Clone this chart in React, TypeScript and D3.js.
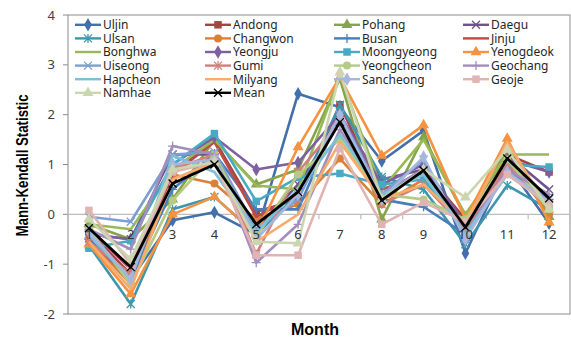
import React from "react";
import * as d3 from "d3";

const months = [1, 2, 3, 4, 5, 6, 7, 8, 9, 10, 11, 12];
const yTicks = [-2, -1, 0, 1, 2, 3, 4];

const uljin = [-0.4, -1.3, -0.12, 0.04, -0.4, 2.42, 2.15, 1.07, 1.68, -0.78, 1.0, -0.18];
const andong = [-0.35, -1.2, 0.8, 1.5, 0.05, 0.3, 2.2, 0.4, 0.9, -0.1, 1.2, 0.85];
const pohang = [-0.2, -0.5, 0.3, 1.5, 0.6, 0.9, 2.72, -0.1, 1.55, -0.05, 1.3, -0.05];
const daegu = [-0.4, -0.5, 1.2, 1.2, -0.3, 0.6, 1.9, 0.7, 0.9, -0.3, 1.2, 0.5];
const ulsan = [-0.62, -1.8, 0.1, 0.35, -0.4, 0.4, 2.2, 0.75, 0.5, -0.6, 0.58, 0.1];
const changwon = [-0.5, -1.4, 0.8, 0.62, -0.1, 0.2, 1.12, 0.2, 0.7, -0.3, 1.1, 0.0];
const busan = [-0.5, -1.3, 0.5, 1.22, 0.1, 0.1, 2.0, 0.3, 0.15, -0.4, 0.9, 0.3];
const jinju = [-0.3, -1.1, 0.8, 1.45, -0.05, 0.4, 2.0, 0.5, 0.8, -0.2, 1.2, 0.2];
const bonghwa = [-0.2, -0.3, 0.9, 1.5, 0.58, 0.5, 2.8, 0.5, 1.5, 0.0, 1.2, 1.2];
const yeongju = [-0.4, -0.5, 1.0, 1.55, 0.9, 1.04, 2.0, 0.6, 1.0, -0.2, 1.1, 0.85];
const moongyeong = [-0.68, -0.53, 1.0, 1.62, 0.26, 0.74, 0.82, 0.6, 0.7, -0.3, 1.0, 0.95];
const yenogdeok = [-0.6, -1.6, 0.0, 0.35, -0.4, 1.35, 2.75, 1.18, 1.79, -0.1, 1.52, -0.16];
const uiseong = [-0.05, -0.15, 1.2, 1.25, -0.3, 0.3, 2.0, 0.4, 1.1, -0.5, 1.0, 0.3];
const gumi = [-0.55, -1.2, 0.9, 1.2, -0.8, 0.85, 1.85, 0.2, 0.6, -0.3, 1.0, 0.2];
const yeongcheon = [-0.3, -1.4, 0.28, 1.2, -0.45, 0.8, 1.5, 0.4, 0.3, -0.1, 1.1, 0.1];
const geochang = [-0.3, -0.7, 1.37, 1.2, -0.97, -0.2, 1.7, 0.4, 0.9, -0.4, 0.9, 0.4];
const hapcheon = [-0.4, -1.3, 1.18, 0.85, -0.35, 0.5, 1.6, 0.4, 0.8, -0.4, 0.8, 0.2];
const milyang = [-0.55, -1.5, 0.7, 1.05, -0.55, 0.0, 1.45, 0.3, 0.6, -0.2, 1.45, 0.1];
const sancheong = [-0.35, -1.3, 1.0, 1.1, -0.5, 0.4, 2.0, 0.3, 1.15, -0.5, 0.85, 0.25];
const geoje = [0.08, -1.0, 0.85, 1.05, -0.82, -0.82, 1.32, -0.2, 0.24, -0.15, 0.8, 0.2];
const namhae = [-0.1, -0.9, 0.9, 1.05, -0.55, -0.58, 2.85, 0.3, 0.9, 0.34, 1.3, 0.1];
const mean = [-0.28, -1.06, 0.62, 1.0, -0.2, 0.45, 1.85, 0.28, 0.88, -0.26, 1.12, 0.32];

const seriesNames = [
  "Uljin", "Andong", "Pohang", "Daegu", "Ulsan", "Changwon", "Busan", "Jinju",
  "Bonghwa", "Yeongju", "Moongyeong", "Yenogdeok", "Uiseong", "Gumi", "Yeongcheon",
  "Geochang", "Hapcheon", "Milyang", "Sancheong", "Geoje", "Namhae", "Mean",
];
const seriesValues = [
  uljin, andong, pohang, daegu, ulsan, changwon, busan, jinju, bonghwa, yeongju,
  moongyeong, yenogdeok, uiseong, gumi, yeongcheon, geochang, hapcheon, milyang,
  sancheong, geoje, namhae, mean,
];

const styles: Record<string, { color: string; marker: string }> = {
  Uljin: { color: "#4470AA", marker: "diamond" },
  Andong: { color: "#A8423F", marker: "square" },
  Pohang: { color: "#86A44A", marker: "triangle" },
  Daegu: { color: "#6E548D", marker: "x" },
  Ulsan: { color: "#3D96AE", marker: "star" },
  Changwon: { color: "#DA8137", marker: "circle" },
  Busan: { color: "#4A7EBB", marker: "plus" },
  Jinju: { color: "#BE4B48", marker: "none" },
  Bonghwa: { color: "#98B954", marker: "none" },
  Yeongju: { color: "#7D60A0", marker: "diamond" },
  Moongyeong: { color: "#46AAC5", marker: "square" },
  Yenogdeok: { color: "#F69240", marker: "triangle" },
  Uiseong: { color: "#7C9FD3", marker: "x" },
  Gumi: { color: "#D37F7D", marker: "star" },
  Yeongcheon: { color: "#B3CC82", marker: "circle" },
  Geochang: { color: "#A18DBE", marker: "plus" },
  Hapcheon: { color: "#7BC1D6", marker: "none" },
  Milyang: { color: "#F9AB6B", marker: "none" },
  Sancheong: { color: "#A6B7DE", marker: "diamond" },
  Geoje: { color: "#E0B4B3", marker: "square" },
  Namhae: { color: "#CBD6B0", marker: "triangle" },
  Mean: { color: "#000000", marker: "x" },
};

const W = 571;
const H = 337;
const left = 68;
const right = 570;
const top = 15;
const bottom = 314;

const x = d3.scalePoint<number>().domain(months).range([left, right]).padding(0.5);
const y = d3.scaleLinear().domain([-2, 4]).range([bottom, top]);
const step = x.step();

function Marker({ type, cx, cy, color }: { type: string; cx: number; cy: number; color: string }) {
  const r = 4;
  if (type === "none") return null;
  if (type === "diamond") {
    const p = d3.symbol().type(d3.symbolDiamond).size(52)();
    return <path d={p || ""} transform={`translate(${cx},${cy})`} fill={color} />;
  }
  if (type === "square") {
    const p = d3.symbol().type(d3.symbolSquare).size(56)();
    return <path d={p || ""} transform={`translate(${cx},${cy})`} fill={color} />;
  }
  if (type === "triangle") {
    const p = d3.symbol().type(d3.symbolTriangle).size(52)();
    return <path d={p || ""} transform={`translate(${cx},${cy})`} fill={color} />;
  }
  if (type === "circle") {
    return <circle cx={cx} cy={cy} r={r} fill={color} />;
  }
  if (type === "x") {
    return (
      <path
        d={`M${cx - r},${cy - r}L${cx + r},${cy + r}M${cx - r},${cy + r}L${cx + r},${cy - r}`}
        stroke={color}
        strokeWidth={1.3}
      />
    );
  }
  if (type === "plus") {
    return (
      <path
        d={`M${cx - r - 0.5},${cy}L${cx + r + 0.5},${cy}M${cx},${cy - r - 0.5}L${cx},${cy + r + 0.5}`}
        stroke={color}
        strokeWidth={1.3}
      />
    );
  }
  if (type === "star") {
    return (
      <path
        d={`M${cx - r},${cy - r}L${cx + r},${cy + r}M${cx - r},${cy + r}L${cx + r},${cy - r}M${cx},${cy - r - 0.5}L${cx},${cy + r + 0.5}`}
        stroke={color}
        strokeWidth={1.3}
      />
    );
  }
  return null;
}

export default function App() {
  const line = d3
    .line<number>()
    .x((_, i) => x(months[i]) as number)
    .y((d) => y(d));

  const legendColX = [75, 205, 334, 463];
  const legendRowY = (r: number) => 24.8 + r * 13.6;

  return (
    <svg width={W} height={H} style={{ position: "absolute", left: 0, top: 0, background: "#fff" }}>
      <rect x={left} y={top} width={right - left} height={bottom - top} fill="none" stroke="#8C8C8C" strokeWidth={1} />
      {yTicks.map((t) => (
        <g key={t}>
          <line x1={left - 5} x2={left} y1={y(t)} y2={y(t)} stroke="#8C8C8C" />
          <text
            x={55}
            y={y(t)}
            dy="0.35em"
            textAnchor="end"
            fontFamily="Noto Sans"
            fontSize={13}
            fill="#404040"
          >
            {t}
          </text>
        </g>
      ))}
      <line x1={left} x2={right} y1={y(0)} y2={y(0)} stroke="#BDBDBD" strokeWidth={1.2} />
      {d3.range(months.length + 1).map((i) => (
        <line
          key={i}
          x1={left + i * step}
          x2={left + i * step}
          y1={y(0)}
          y2={y(0) + 5}
          stroke="#BDBDBD"
          strokeWidth={1.2}
        />
      ))}
      {seriesNames.map((name, si) => {
        const st = styles[name];
        const vals = seriesValues[si];
        return (
          <g key={name}>
            <path d={line(vals) || ""} fill="none" stroke={st.color} strokeWidth={name === "Mean" ? 2.8 : 2.6} strokeLinejoin="round" />
            {vals.map((v, i) => (
              <Marker key={i} type={st.marker} cx={x(months[i]) as number} cy={y(v)} color={st.color} />
            ))}
          </g>
        );
      })}
      {months.map((m) => (
        <text
          key={m}
          x={x(m) as number}
          y={y(0) + 20}
          dy="0.35em"
          textAnchor="middle"
          fontFamily="Noto Sans"
          fontSize={13}
          fill="#333"
        >
          {m}
        </text>
      ))}
      {seriesNames.map((name, i) => {
        const st = styles[name];
        const col = i % 4;
        const row = Math.floor(i / 4);
        const lx = legendColX[col];
        const ly = legendRowY(row);
        return (
          <g key={name}>
            <line x1={lx} x2={lx + 26} y1={ly} y2={ly} stroke={st.color} strokeWidth={2.4} />
            <Marker type={st.marker} cx={lx + 13} cy={ly} color={st.color} />
            <text x={lx + 28} y={ly} dy="0.36em" fontFamily="Noto Sans" fontSize={12} fill="#262626">
              {name}
            </text>
          </g>
        );
      })}
      <text
        transform={`translate(22,${(top + bottom) / 2 + 1}) rotate(-90)`}
        textAnchor="middle"
        dy="0.35em"
        fontFamily="Liberation Sans"
        fontWeight="bold"
        fontSize={16}
        textLength={142}
        lengthAdjust="spacingAndGlyphs"
        fill="#000"
      >
        Mann-Kendall Statistic
      </text>
      <text
        x={315}
        y={329}
        textAnchor="middle"
        dy="0.35em"
        fontFamily="Liberation Sans"
        fontWeight="bold"
        fontSize={16}
        fill="#000"
      >
        Month
      </text>
    </svg>
  );
}
